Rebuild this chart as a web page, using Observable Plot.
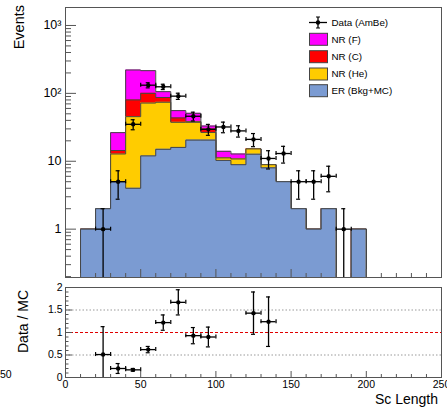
<!DOCTYPE html>
<html><head><meta charset="utf-8">
<script src="https://cdn.jsdelivr.net/npm/d3@7"></script>
<script src="https://cdn.jsdelivr.net/npm/@observablehq/plot@0.6"></script>
<style>
body{margin:0;background:#fff;font-family:"Liberation Sans",Arial,sans-serif;}
#wrap{position:relative;width:447px;height:407px;overflow:hidden;background:#fff;}
#top,#bot,#ov{position:absolute;left:0;}
#top{top:0px} #bot{top:282px} #ov{top:0px;pointer-events:none}
svg text{font-family:"Liberation Sans",Arial,sans-serif;}
</style></head><body>
<div id="wrap"><div id="top"></div><div id="bot"></div><svg id="ov" width="447" height="407"></svg></div>
<script>
// ---- data ----
const binLo = [10,20,30,40,50,60,70,80,90,100,110,120,130,140,150,160,170,180,190];
const binWidth = 10;
const erBkgMC = [1,2,5,4,12,15,16,20.5,20.5,10.3,8.9,12.7,8,5,2,1,2,0,1];
const nrHe    = [0,0,7.8,41.4,60,59,21.5,17,6.1,0.9,1.9,2.5,0.9,0,0,0,0,0,0];
const nrC     = [0,0,1.6,34.6,28,13,6,1,3.3,0,0,0,0,0,0,0,0,0,0];
const nrF     = [0,0,12,141,116,19,12.2,12.3,3.1,2.8,2.0,0,0,0,0,0,0,0,0];

const dataX   = [25,35,45,55,65,75,85,95,105,115,125,135,145,155,165,175,185];
const dataY   = [1,5,35,132,125,91,46,29.5,32,28,21,11,13,5,5,6,1];
const dataErr = [1,2.24,5.9,11.5,11.2,9.5,6.8,5.4,5.7,5.3,4.6,3.3,3.6,2.24,2.24,2.45,1];

const ratioX   = [25,35,45,55,65,75,85,95,125,135];
const ratioY   = [0.51,0.2,0.17,0.62,1.22,1.67,0.93,0.9,1.43,1.24];
const ratioErr = [0.62,0.11,0.03,0.07,0.17,0.28,0.18,0.22,0.47,0.55];

const topTickValues = [1,10,100,1000];
const topTickLabels = ["1","10","10\u00B2","10\u00B3"];
const ratioTickValues = [0,0.5,1,1.5,2];
const ratioTickLabels = ["0","0.5","1","1.5","2"];
const xTickValues = [0,50,100,150,200,250];
const xTickLabels = ["0","50","100","150","200","250"];

const legendLabels = ["Data (AmBe)","NR (F)","NR (C)","NR (He)","ER (Bkg+MC)"];
const colors = {F:"#ff00ff", C:"#ff0000", He:"#ffcc00", ER:"#7b9bd2"};

// ---- build ----
const yMin = 0.194, yMax = 1840;
const halfW = binWidth/2;
function cum(...arrs){ return binLo.map((_,i)=>arrs.reduce((s,a)=>s+a[i],0)); }
const cER = cum(erBkgMC), cHe = cum(erBkgMC,nrHe), cC = cum(erBkgMC,nrHe,nrC), cF = cum(erBkgMC,nrHe,nrC,nrF);
function steps(c){
  const f = v => Math.max(v, yMin);
  const pts = [{x:binLo[0], y:yMin}];
  binLo.forEach((x,i)=>pts.push({x, y:f(c[i])}));
  const last = binLo.length-1;
  pts.push({x:binLo[last]+binWidth, y:f(c[last])});
  pts.push({x:binLo[last]+binWidth, y:yMin});
  return pts;
}
const layers = [[cF,colors.F],[cC,colors.C],[cHe,colors.He],[cER,colors.ER]];
const histMarks = [];
for (const [c,col] of layers){
  const s = steps(c);
  histMarks.push(Plot.areaY(s,{x:"x", y1:yMin, y2:"y", curve:"step-after", fill:col, clip:true}));
  histMarks.push(Plot.line(s,{x:"x", y:"y", curve:"step-after", stroke:"#444", strokeWidth:1, clip:true}));
}
const pts = dataX.map((x,i)=>({x, y:dataY[i], lo:Math.max(dataY[i]-dataErr[i], yMin), hi:dataY[i]+dataErr[i], clipped:dataY[i]-dataErr[i] <= yMin}));

// log minor ticks
const minor = [];
for (let e=-1;e<=3;e++) for (let k=2;k<=9;k++){ const v=k*Math.pow(10,e); if(v>=yMin && v<=yMax) minor.push(v); }
const xMinor = d3.range(0,251,10).filter(v=>v%50!==0);

const topPlot = Plot.plot({
  width:447, height:282, marginLeft:65, marginRight:6, marginTop:7, marginBottom:5,
  style:{background:"transparent", fontFamily:"Liberation Sans, Arial, sans-serif"},
  x:{domain:[0,250], axis:null},
  y:{type:"log", domain:[yMin,yMax], axis:null},
  marks:[
    ...histMarks,
    // data error bars
    Plot.ruleX(pts,{x:"x", y1:"lo", y2:"hi", stroke:"#000", strokeWidth:1.3, clip:true}),
    Plot.ruleY(pts,{y:"hi", x1:"x", x2:"x", insetLeft:-2, insetRight:-2, stroke:"#000", strokeWidth:1.2}),
    Plot.ruleY(pts.filter(d=>!d.clipped),{y:"lo", x1:"x", x2:"x", insetLeft:-2, insetRight:-2, stroke:"#000", strokeWidth:1.2}),
    Plot.ruleY(pts,{y:"y", x1:d=>d.x-halfW, x2:d=>d.x+halfW, stroke:"#000", strokeWidth:1.3}),
    Plot.ruleX(pts,{x:d=>d.x-halfW, y1:"y", y2:"y", insetTop:-2, insetBottom:-2, stroke:"#000", strokeWidth:1.2}),
    Plot.ruleX(pts,{x:d=>d.x+halfW, y1:"y", y2:"y", insetTop:-2, insetBottom:-2, stroke:"#000", strokeWidth:1.2}),
    Plot.dot(pts,{x:"x", y:"y", r:2.2, fill:"#000"}),
    // axes ticks (inside)
    Plot.ruleY(topTickValues,{y:d=>d, x1:0, x2:0, insetRight:-11, stroke:"#555"}),
    Plot.ruleY(minor,{y:d=>d, x1:0, x2:0, insetRight:-6, stroke:"#555"}),
    Plot.ruleX(xTickValues,{x:d=>d, y1:yMin, y2:yMin, insetBottom:8, stroke:"#555"}),
    Plot.ruleX(xMinor,{x:d=>d, y1:yMin, y2:yMin, insetBottom:4, stroke:"#555"}),
    Plot.text(topTickValues,{y:d=>d, text:(d,i)=>topTickLabels[i], frameAnchor:"left", textAnchor:"end", dx:-4, fontSize:12.5, fill:"#000"}),
    Plot.frame({stroke:"#555", strokeWidth:1})
  ]
});
document.getElementById("top").appendChild(topPlot);

const rpts = ratioX.map((x,i)=>({x, y:ratioY[i], lo:Math.max(ratioY[i]-ratioErr[i],0), hi:ratioY[i]+ratioErr[i], clipped:ratioY[i]-ratioErr[i]<=0}));
const rMinor = d3.range(0,2.001,0.1).map(v=>Math.round(v*10)/10).filter(v=>Math.round(v*10)%5!==0);

const botPlot = Plot.plot({
  width:447, height:125, marginLeft:65, marginRight:6, marginTop:5, marginBottom:30,
  style:{background:"transparent", fontFamily:"Liberation Sans, Arial, sans-serif", overflow:"visible"},
  x:{domain:[0,250], axis:null},
  y:{domain:[0,2], axis:null},
  marks:[
    Plot.ruleY([0.5,1.5],{y:d=>d, stroke:"#999", strokeDasharray:"1.5,2", strokeWidth:1}),
    Plot.ruleY([1],{y:d=>d, stroke:"#e00000", strokeDasharray:"3,2", strokeWidth:1.2}),
    Plot.ruleX(rpts,{x:"x", y1:"lo", y2:"hi", stroke:"#000", strokeWidth:1.3}),
    Plot.ruleY(rpts,{y:"hi", x1:"x", x2:"x", insetLeft:-2, insetRight:-2, stroke:"#000", strokeWidth:1.2}),
    Plot.ruleY(rpts.filter(d=>!d.clipped),{y:"lo", x1:"x", x2:"x", insetLeft:-2, insetRight:-2, stroke:"#000", strokeWidth:1.2}),
    Plot.ruleY(rpts,{y:"y", x1:d=>d.x-halfW, x2:d=>d.x+halfW, stroke:"#000", strokeWidth:1.3}),
    Plot.ruleX(rpts,{x:d=>d.x-halfW, y1:"y", y2:"y", insetTop:-2, insetBottom:-2, stroke:"#000", strokeWidth:1.2}),
    Plot.ruleX(rpts,{x:d=>d.x+halfW, y1:"y", y2:"y", insetTop:-2, insetBottom:-2, stroke:"#000", strokeWidth:1.2}),
    Plot.dot(rpts,{x:"x", y:"y", r:2.2, fill:"#000"}),
    Plot.ruleY(ratioTickValues,{y:d=>d, x1:0, x2:0, insetRight:-7, stroke:"#555"}),
    Plot.ruleY(rMinor,{y:d=>d, x1:0, x2:0, insetRight:-3.5, stroke:"#555"}),
    Plot.ruleX(xTickValues,{x:d=>d, y1:0, y2:0, insetBottom:6, stroke:"#555"}),
    Plot.ruleX(xMinor,{x:d=>d, y1:0, y2:0, insetBottom:3, stroke:"#555"}),
    Plot.text(ratioTickValues,{y:d=>d, text:(d,i)=>ratioTickLabels[i], frameAnchor:"left", textAnchor:"end", dx:-3, fontSize:10.5, fill:"#000"}),
    Plot.text(xTickValues,{x:d=>d, text:(d,i)=>xTickLabels[i], frameAnchor:"bottom", lineAnchor:"top", dy:3, fontSize:10.5, fill:"#000"}),
    Plot.frame({stroke:"#555", strokeWidth:1})
  ]
});
document.getElementById("bot").appendChild(botPlot);

// ---- overlay: titles and legend ----
const ov = d3.select("#ov");
ov.append("text").attr("transform","translate(24,5) rotate(-90)").attr("text-anchor","end").attr("font-size",14.5).text("Events");
ov.append("text").attr("transform","translate(28,290) rotate(-90)").attr("text-anchor","end").attr("font-size",14).text("Data / MC");
ov.append("text").attr("x",438).attr("y",404).attr("text-anchor","end").attr("font-size",14).text("Sc Length");
ov.append("text").attr("x",0).attr("y",378).attr("text-anchor","start").attr("font-size",10.5).text("50");

const lg = ov.append("g");
const rowY = [22.5,39.3,56.7,74,90.7];
const lx0 = 309, lx1 = 327, tx = 331.5;
// data entry
lg.append("line").attr("x1",lx0).attr("x2",lx1).attr("y1",rowY[0]).attr("y2",rowY[0]).attr("stroke","#000").attr("stroke-width",1.3);
lg.append("line").attr("x1",318).attr("x2",318).attr("y1",rowY[0]-5.5).attr("y2",rowY[0]+5.5).attr("stroke","#000").attr("stroke-width",1.3);
lg.append("line").attr("x1",316).attr("x2",320).attr("y1",rowY[0]-5.5).attr("y2",rowY[0]-5.5).attr("stroke","#000");
lg.append("line").attr("x1",316).attr("x2",320).attr("y1",rowY[0]+5.5).attr("y2",rowY[0]+5.5).attr("stroke","#000");
lg.append("circle").attr("cx",318).attr("cy",rowY[0]).attr("r",2.2).attr("fill","#000");
const boxCols = [colors.F, colors.C, colors.He, colors.ER];
boxCols.forEach((c,i)=>{
  lg.append("rect").attr("x",lx0+0.5).attr("y",rowY[i+1]-6).attr("width",lx1-lx0).attr("height",12).attr("fill",c).attr("stroke","#444").attr("stroke-width",1);
});
legendLabels.forEach((t,i)=>{
  lg.append("text").attr("x",tx).attr("y",rowY[i]).attr("dy","0.35em").attr("font-size",9.8).attr("fill","#000").text(t);
});
</script>
</body></html>
